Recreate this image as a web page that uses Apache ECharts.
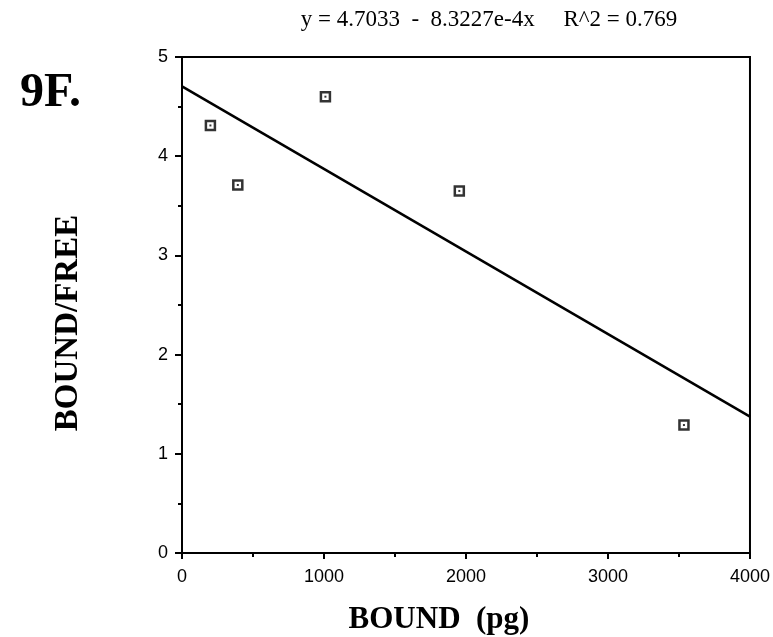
<!DOCTYPE html>
<html><head><meta charset="utf-8">
<script src="https://cdn.jsdelivr.net/npm/echarts@6/dist/echarts.min.js"></script>
<style>html,body{margin:0;padding:0;background:#fff}#c{width:773px;height:637px}</style>
</head><body><div id="c"></div>
<script>
// Data
var boundX = [200, 393, 1010, 1953, 3535];
var boundFree = [4.31, 3.71, 4.60, 3.65, 1.29];
// Fitted line endpoints (y = 4.7033 - 8.3227e-4 x)
var fitX = [0, 4000];
var fitY = [4.7033, 1.3742];
var xTicks = [0, 1000, 2000, 3000, 4000];
var yTicks = [0, 1, 2, 3, 4, 5];
var equationText = 'y = 4.7033  -  8.3227e-4x     R^2 = 0.769';

var chart = echarts.init(document.getElementById('c'), null, {renderer: 'canvas'});
var pts = boundX.map(function (x, i) { return [x, boundFree[i]]; });
var fit = fitX.map(function (x, i) { return [x, fitY[i]]; });
var tickFont = {color: '#000', fontFamily: 'Liberation Sans', fontSize: 18};
chart.setOption({
  animation: false,
  backgroundColor: '#fff',
  grid: {left: 182, right: 19, top: 57, bottom: 84, show: true, borderColor: '#000', borderWidth: 2, backgroundColor: 'transparent'},
  xAxis: {
    type: 'value', min: xTicks[0], max: xTicks[xTicks.length - 1], interval: 1000,
    axisLine: {show: true, lineStyle: {color: '#000', width: 2}},
    axisTick: {show: true, length: 6, lineStyle: {color: '#000', width: 2}},
    minorTick: {show: true, splitNumber: 2, length: 4, lineStyle: {color: '#000', width: 2}},
    splitLine: {show: false},
    axisLabel: Object.assign({margin: 15, formatter: function (v) { return String(v); }}, tickFont)
  },
  yAxis: {
    type: 'value', min: yTicks[0], max: yTicks[yTicks.length - 1], interval: 1,
    axisLine: {show: true, lineStyle: {color: '#000', width: 2}},
    axisTick: {show: true, length: 7, lineStyle: {color: '#000', width: 2}},
    minorTick: {show: true, splitNumber: 2, length: 4, lineStyle: {color: '#000', width: 2}},
    splitLine: {show: false},
    axisLabel: Object.assign({margin: 14}, tickFont)
  },
  series: [
    {type: 'line', data: fit, symbol: 'none', lineStyle: {color: '#000', width: 2.5}, z: 2},
    {type: 'scatter', data: pts, symbol: 'rect', symbolSize: 9,
     itemStyle: {color: '#fff', borderColor: '#000', borderWidth: 2.5}, z: 3},
    {type: 'scatter', data: pts, symbol: 'rect', symbolSize: 2,
     itemStyle: {color: '#000'}, z: 4}
  ],
  graphic: [
    {type: 'text', x: 489, y: 20, style: {text: equationText, font: '23px "Liberation Serif"', fill: '#000', align: 'center', verticalAlign: 'middle'}},
    {type: 'text', x: 20, y: 94, style: {text: '9F.', font: 'bold 48px "Liberation Serif"', fill: '#000', align: 'left', verticalAlign: 'middle'}},
    {type: 'text', x: 68, y: 323, rotation: Math.PI / 2,
     style: {text: 'BOUND/FREE', font: 'bold 33px "Liberation Serif"', fill: '#000', align: 'center', verticalAlign: 'middle'}},
    {type: 'text', x: 439, y: 620,
     style: {text: 'BOUND  (pg)', font: 'bold 31px "Liberation Serif"', fill: '#000', align: 'center', verticalAlign: 'middle'}}
  ]
});
</script></body></html>
